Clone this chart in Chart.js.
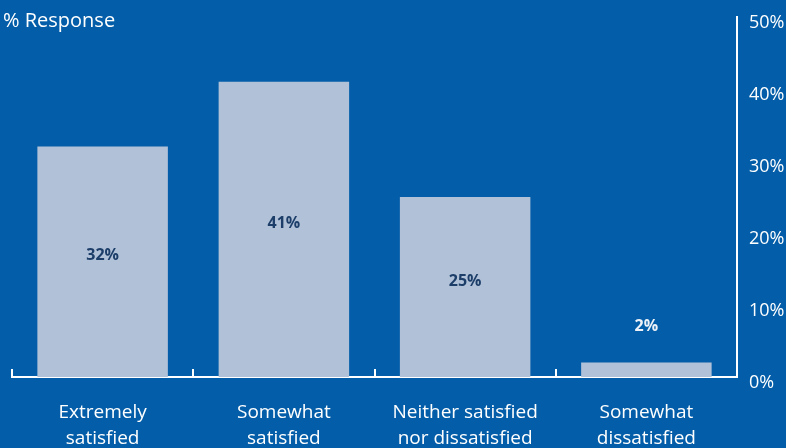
<!DOCTYPE html>
<html>
<head>
<meta charset="utf-8">
<script src="https://cdn.jsdelivr.net/npm/chart.js@4.4.0/dist/chart.umd.min.js"></script>
<style>
  html, body { margin: 0; padding: 0; background: #035da8; }
  #wrap { width: 786px; height: 448px; position: relative; }
</style>
</head>
<body>
<div id="wrap"><canvas id="responses"></canvas></div>
<script>
// data
const categories = [
  ["Extremely", "satisfied"],
  ["Somewhat", "satisfied"],
  ["Neither satisfied", "nor dissatisfied"],
  ["Somewhat", "dissatisfied"]
];
const responses = [32, 41, 25, 2];
const yTicks = [0, 10, 20, 30, 40, 50];
const axisTitle = "% Response";

const fontName = "'Open Sans', Lato, sans-serif";

// value labels on the bars, boundary ticks and the title
const extras = {
  id: "extras",
  afterDatasetsDraw(chart) {
    const ctx = chart.ctx;
    const meta = chart.getDatasetMeta(0);
    ctx.save();
    ctx.font = "bold 16px " + fontName;
    ctx.textAlign = "center";
    ctx.textBaseline = "middle";
    meta.data.forEach((bar, i) => {
      const h = bar.base - bar.y;
      let y;
      if (h > 60) {
        y = bar.y + h / 2 - 6;
        ctx.fillStyle = "#1c3e69";
      } else {
        y = bar.y - 36;
        ctx.fillStyle = "#eef2f8";
      }
      ctx.fillText(responses[i] + "%", bar.x, y);
    });

    // short upward ticks on the category boundaries
    const x = chart.scales.x;
    const bottom = chart.chartArea.bottom;
    const half = (x.getPixelForValue(1) - x.getPixelForValue(0)) / 2;
    ctx.strokeStyle = "#ffffff";
    ctx.lineWidth = 2;
    for (let i = 0; i < categories.length; i++) {
      const px = Math.round(x.getPixelForValue(i) - half);
      ctx.beginPath();
      ctx.moveTo(px, bottom);
      ctx.lineTo(px, bottom - 8);
      ctx.stroke();
    }

    ctx.fillStyle = "#ffffff";
    ctx.font = "20px " + fontName;
    ctx.textAlign = "left";
    ctx.fillText(axisTitle, 3, 21);
    ctx.restore();
  }
};

new Chart(document.getElementById("responses"), {
  type: "bar",
  data: {
    labels: categories,
    datasets: [{
      data: responses,
      backgroundColor: "#b1c1d8",
      barPercentage: 0.72,
      categoryPercentage: 1
    }]
  },
  options: {
    responsive: true,
    maintainAspectRatio: false,
    animation: false,
    layout: { padding: { left: 12, top: 17, right: 0, bottom: 0 } },
    plugins: {
      legend: { display: false },
      tooltip: { enabled: false }
    },
    scales: {
      x: {
        grid: { display: false, drawTicks: false },
        border: { display: true, color: "#ffffff", width: 2 },
        ticks: {
          color: "#ffffff",
          font: { family: fontName, size: 19, lineHeight: 1.4 },
          padding: 22,
          maxRotation: 0,
          autoSkip: false
        },
        afterFit(scale) {
          scale.height = 71;
          scale.paddingLeft = 0;
          scale.paddingRight = 0;
        }
      },
      y: {
        position: "right",
        min: 0,
        max: 50,
        afterBuildTicks(scale) { scale.ticks = yTicks.map(v => ({ value: v })); },
        grid: { display: false, drawTicks: false },
        border: { display: true, color: "#ffffff", width: 2 },
        ticks: {
          color: "#ffffff",
          font: { family: fontName, size: 18 },
          padding: 12,
          labelOffset: 6,
          callback: v => v + "%"
        },
        afterFit(scale) {
          scale.width = 49;
          scale.paddingTop = 0;
          scale.paddingBottom = 0;
        }
      }
    }
  },
  plugins: [extras]
});
</script>
</body>
</html>
